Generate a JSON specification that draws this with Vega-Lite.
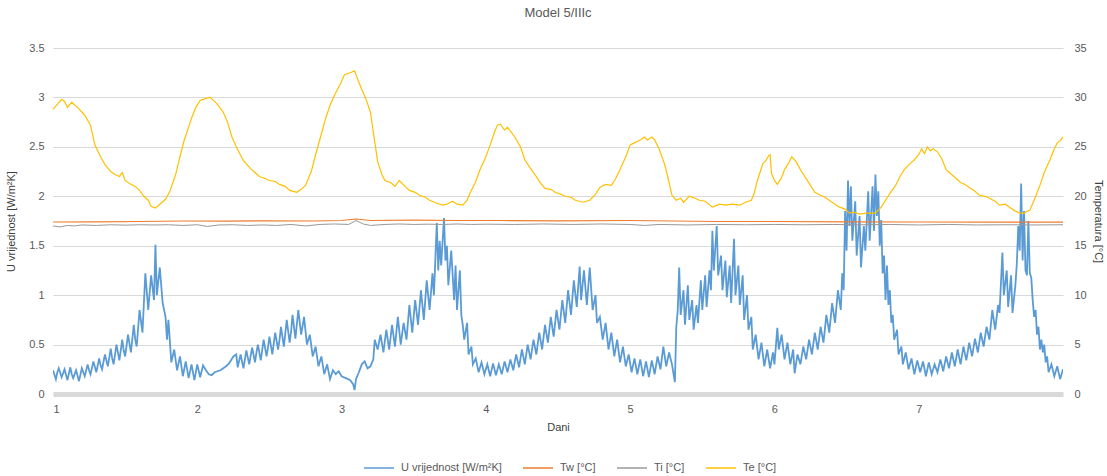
{
"$schema": "https://vega.github.io/schema/vega-lite/v6.json",
"autosize": "none",
"width": 1010,
"height": 346,
"padding": {"left": 53, "top": 48, "right": 44, "bottom": 82},
"background": "white",
"config": {"view": {"stroke": null}, "font": "Liberation Sans Narrow, Liberation Sans, Arial, sans-serif"},
"title": {"text": "Model 5/IIIc", "fontSize": 13, "fontWeight": "normal", "color": "#595959", "offset": 22, "anchor": "middle"},
"datasets": {
"u": [
{"d":1.00,"v":0.24},{"d":1.02,"v":0.15},{"d":1.03,"v":0.22},{"d":1.04,"v":0.26},{"d":1.06,"v":0.17},{"d":1.07,"v":0.21},{"d":1.08,"v":0.25},{"d":1.10,"v":0.14},{"d":1.12,"v":0.27},{"d":1.13,"v":0.2},{"d":1.14,"v":0.16},{"d":1.16,"v":0.24},{"d":1.18,"v":0.13},{"d":1.20,"v":0.26},
{"d":1.22,"v":0.18},{"d":1.24,"v":0.30},{"d":1.25,"v":0.24},{"d":1.26,"v":0.20},{"d":1.28,"v":0.33},{"d":1.30,"v":0.22},{"d":1.32,"v":0.36},{"d":1.33,"v":0.29},{"d":1.34,"v":0.25},{"d":1.36,"v":0.40},{"d":1.38,"v":0.28},{"d":1.40,"v":0.46},{"d":1.41,"v":0.36},{"d":1.42,"v":0.30},{"d":1.44,"v":0.50},{"d":1.46,"v":0.34},{"d":1.48,"v":0.55},{"d":1.49,"v":0.44},{"d":1.50,"v":0.38},{"d":1.52,"v":0.60},{"d":1.54,"v":0.42},{"d":1.56,"v":0.70},{"d":1.57,"v":0.55},{"d":1.58,"v":0.48},{"d":1.60,"v":0.85},{"d":1.62,"v":0.62},{"d":1.64,"v":1.22},{"d":1.66,"v":0.85},{"d":1.68,"v":1.20},{"d":1.70,"v":0.95},{"d":1.71,"v":1.51},{"d":1.72,"v":1.00},{"d":1.74,"v":1.28},{"d":1.76,"v":0.92},{"d":1.78,"v":0.78},{"d":1.79,"v":0.55},{"d":1.80,"v":0.75},{"d":1.82,"v":0.32},{"d":1.84,"v":0.45},{"d":1.86,"v":0.24},{"d":1.88,"v":0.38},{"d":1.90,"v":0.18},{"d":1.92,"v":0.33},{"d":1.94,"v":0.16},{"d":1.96,"v":0.30},{"d":1.98,"v":0.14},{"d":2.00,"v":0.30},{"d":2.02,"v":0.17},{"d":2.04,"v":0.29},{"d":2.06,"v":0.24},{"d":2.08,"v":0.20},{"d":2.10,"v":0.19},{"d":2.12,"v":0.22},{"d":2.14,"v":0.23},{"d":2.16,"v":0.24},{"d":2.18,"v":0.26},{"d":2.20,"v":0.28},{"d":2.22,"v":0.31},{"d":2.25,"v":0.38},{"d":2.27,"v":0.40},{"d":2.28,"v":0.27},{"d":2.30,"v":0.40},{"d":2.32,"v":0.26},{"d":2.33,"v":0.35},{"d":2.34,"v":0.44},{"d":2.36,"v":0.30},{"d":2.38,"v":0.47},{"d":2.40,"v":0.32},{"d":2.41,"v":0.42},{"d":2.42,"v":0.50},{"d":2.44,"v":0.34},{"d":2.46,"v":0.55},{"d":2.48,"v":0.38},{"d":2.49,"v":0.47},{"d":2.50,"v":0.58},{"d":2.52,"v":0.40},{"d":2.54,"v":0.62},{"d":2.56,"v":0.45},{"d":2.57,"v":0.55},{"d":2.58,"v":0.68},{"d":2.60,"v":0.48},{"d":2.62,"v":0.75},{"d":2.64,"v":0.52},{"d":2.65,"v":0.63},{"d":2.66,"v":0.80},{"d":2.68,"v":0.56},{"d":2.70,"v":0.85},{"d":2.72,"v":0.60},{"d":2.74,"v":0.78},{"d":2.76,"v":0.50},{"d":2.78,"v":0.60},{"d":2.80,"v":0.38},{"d":2.82,"v":0.48},{"d":2.84,"v":0.28},{"d":2.86,"v":0.38},{"d":2.88,"v":0.20},{"d":2.90,"v":0.30},{"d":2.92,"v":0.15},{"d":2.94,"v":0.24},{"d":2.96,"v":0.20},{"d":2.98,"v":0.23},{"d":3.00,"v":0.18},{"d":3.03,"v":0.16},{"d":3.06,"v":0.14},{"d":3.08,"v":0.10},{"d":3.09,"v":0.04},{"d":3.10,"v":0.15},{"d":3.12,"v":0.22},{"d":3.14,"v":0.30},{"d":3.16,"v":0.33},{"d":3.18,"v":0.26},{"d":3.20,"v":0.28},{"d":3.22,"v":0.35},{"d":3.23,"v":0.55},{"d":3.25,"v":0.45},{"d":3.27,"v":0.60},{"d":3.29,"v":0.42},{"d":3.31,"v":0.65},{"d":3.33,"v":0.45},{"d":3.35,"v":0.70},{"d":3.37,"v":0.48},{"d":3.39,"v":0.78},{"d":3.41,"v":0.50},{"d":3.43,"v":0.72},{"d":3.45,"v":0.55},{"d":3.47,"v":0.90},{"d":3.49,"v":0.62},{"d":3.51,"v":0.95},{"d":3.53,"v":0.70},{"d":3.55,"v":1.05},{"d":3.57,"v":0.75},{"d":3.59,"v":1.15},{"d":3.61,"v":0.85},{"d":3.63,"v":1.22},{"d":3.64,"v":1.00},{"d":3.66,"v":1.73},{"d":3.67,"v":1.25},{"d":3.68,"v":1.55},{"d":3.69,"v":1.30},{"d":3.71,"v":1.78},{"d":3.72,"v":1.35},{"d":3.73,"v":1.50},{"d":3.74,"v":1.10},{"d":3.76,"v":1.45},{"d":3.78,"v":0.95},{"d":3.79,"v":1.30},{"d":3.80,"v":0.85},{"d":3.82,"v":1.25},{"d":3.83,"v":0.80},{"d":3.84,"v":0.70},{"d":3.85,"v":0.55},{"d":3.87,"v":0.72},{"d":3.88,"v":0.40},{"d":3.90,"v":0.48},{"d":3.91,"v":0.30},{"d":3.93,"v":0.36},{"d":3.95,"v":0.22},{"d":3.97,"v":0.32},{"d":3.99,"v":0.20},{"d":4.01,"v":0.30},{"d":4.03,"v":0.18},{"d":4.05,"v":0.31},{"d":4.07,"v":0.19},{"d":4.09,"v":0.30},{"d":4.11,"v":0.20},{"d":4.13,"v":0.33},{"d":4.15,"v":0.22},{"d":4.17,"v":0.35},{"d":4.19,"v":0.24},{"d":4.21,"v":0.40},{"d":4.23,"v":0.27},{"d":4.25,"v":0.45},{"d":4.27,"v":0.30},{"d":4.29,"v":0.50},{"d":4.31,"v":0.35},{"d":4.33,"v":0.55},{"d":4.35,"v":0.40},{"d":4.37,"v":0.62},{"d":4.39,"v":0.45},{"d":4.41,"v":0.70},{"d":4.43,"v":0.52},{"d":4.45,"v":0.78},{"d":4.47,"v":0.58},{"d":4.49,"v":0.85},{"d":4.51,"v":0.65},{"d":4.53,"v":0.95},{"d":4.55,"v":0.72},{"d":4.57,"v":1.05},{"d":4.59,"v":0.80},{"d":4.61,"v":1.15},{"d":4.63,"v":0.88},{"d":4.65,"v":1.29},{"d":4.66,"v":0.95},{"d":4.68,"v":1.25},{"d":4.70,"v":0.90},{"d":4.72,"v":1.28},{"d":4.74,"v":0.85},{"d":4.76,"v":1.00},{"d":4.77,"v":0.72},{"d":4.79,"v":0.78},{"d":4.81,"v":0.55},{"d":4.83,"v":0.72},{"d":4.85,"v":0.45},{"d":4.87,"v":0.62},{"d":4.89,"v":0.38},{"d":4.91,"v":0.55},{"d":4.93,"v":0.32},{"d":4.95,"v":0.48},{"d":4.97,"v":0.28},{"d":4.99,"v":0.40},{"d":5.01,"v":0.22},{"d":5.03,"v":0.36},{"d":5.05,"v":0.20},{"d":5.07,"v":0.35},{"d":5.09,"v":0.18},{"d":5.11,"v":0.33},{"d":5.13,"v":0.17},{"d":5.15,"v":0.34},{"d":5.17,"v":0.20},{"d":5.19,"v":0.38},{"d":5.21,"v":0.25},{"d":5.23,"v":0.48},{"d":5.25,"v":0.28},{"d":5.27,"v":0.42},{"d":5.29,"v":0.30},{"d":5.31,"v":0.12},{"d":5.32,"v":0.68},{"d":5.33,"v":0.85},{"d":5.34,"v":1.28},{"d":5.35,"v":0.80},{"d":5.37,"v":1.05},{"d":5.38,"v":0.70},{"d":5.40,"v":1.10},{"d":5.41,"v":0.75},{"d":5.43,"v":0.95},{"d":5.44,"v":0.65},{"d":5.46,"v":0.90},{"d":5.47,"v":0.72},{"d":5.49,"v":1.15},{"d":5.50,"v":0.85},{"d":5.52,"v":1.20},{"d":5.53,"v":0.88},{"d":5.55,"v":1.25},{"d":5.56,"v":1.05},{"d":5.57,"v":1.65},{"d":5.58,"v":1.25},{"d":5.60,"v":1.70},{"d":5.61,"v":1.20},{"d":5.63,"v":1.40},{"d":5.64,"v":1.05},{"d":5.66,"v":1.35},{"d":5.67,"v":0.98},{"d":5.69,"v":1.30},{"d":5.70,"v":0.92},{"d":5.72,"v":1.57},{"d":5.73,"v":1.00},{"d":5.75,"v":1.30},{"d":5.76,"v":0.90},{"d":5.78,"v":1.20},{"d":5.79,"v":0.75},{"d":5.81,"v":1.00},{"d":5.82,"v":0.65},{"d":5.84,"v":0.78},{"d":5.85,"v":0.45},{"d":5.87,"v":0.60},{"d":5.89,"v":0.35},{"d":5.91,"v":0.52},{"d":5.93,"v":0.28},{"d":5.95,"v":0.45},{"d":5.97,"v":0.26},{"d":5.99,"v":0.42},{"d":6.00,"v":0.30},{"d":6.02,"v":0.67},{"d":6.03,"v":0.45},{"d":6.05,"v":0.60},{"d":6.07,"v":0.35},{"d":6.09,"v":0.52},{"d":6.11,"v":0.30},{"d":6.13,"v":0.45},{"d":6.14,"v":0.21},{"d":6.16,"v":0.40},{"d":6.18,"v":0.30},{"d":6.20,"v":0.48},{"d":6.22,"v":0.35},{"d":6.24,"v":0.55},{"d":6.26,"v":0.40},{"d":6.28,"v":0.62},{"d":6.30,"v":0.45},{"d":6.32,"v":0.68},{"d":6.34,"v":0.52},{"d":6.36,"v":0.80},{"d":6.38,"v":0.62},{"d":6.40,"v":0.92},{"d":6.42,"v":0.72},{"d":6.44,"v":1.05},{"d":6.46,"v":0.85},{"d":6.47,"v":1.22},{"d":6.48,"v":1.05},{"d":6.49,"v":1.85},{"d":6.50,"v":1.45},{"d":6.51,"v":2.16},{"d":6.52,"v":1.70},{"d":6.53,"v":2.10},{"d":6.54,"v":1.55},{"d":6.56,"v":1.95},{"d":6.57,"v":1.40},{"d":6.59,"v":1.80},{"d":6.60,"v":1.28},{"d":6.62,"v":1.70},{"d":6.63,"v":1.45},{"d":6.65,"v":2.05},{"d":6.66,"v":1.55},{"d":6.68,"v":2.10},{"d":6.69,"v":1.65},{"d":6.70,"v":2.22},{"d":6.71,"v":1.80},{"d":6.72,"v":2.05},{"d":6.73,"v":1.50},{"d":6.74,"v":1.76},{"d":6.75,"v":1.22},{"d":6.76,"v":1.40},{"d":6.77,"v":0.95},{"d":6.78,"v":1.30},{"d":6.79,"v":0.90},{"d":6.80,"v":1.05},{"d":6.81,"v":0.72},{"d":6.82,"v":0.80},{"d":6.83,"v":0.55},{"d":6.85,"v":0.65},{"d":6.86,"v":0.40},{"d":6.88,"v":0.48},{"d":6.89,"v":0.30},{"d":6.91,"v":0.42},{"d":6.93,"v":0.25},{"d":6.95,"v":0.36},{"d":6.97,"v":0.20},{"d":6.99,"v":0.34},{"d":7.01,"v":0.22},{"d":7.03,"v":0.33},{"d":7.05,"v":0.18},{"d":7.07,"v":0.32},{"d":7.09,"v":0.20},{"d":7.11,"v":0.30},{"d":7.13,"v":0.22},{"d":7.15,"v":0.35},{"d":7.17,"v":0.23},{"d":7.19,"v":0.38},{"d":7.21,"v":0.26},{"d":7.23,"v":0.42},{"d":7.25,"v":0.28},{"d":7.27,"v":0.45},{"d":7.29,"v":0.30},{"d":7.31,"v":0.48},{"d":7.33,"v":0.34},{"d":7.35,"v":0.52},{"d":7.37,"v":0.38},{"d":7.39,"v":0.56},{"d":7.41,"v":0.42},{"d":7.43,"v":0.62},{"d":7.45,"v":0.48},{"d":7.47,"v":0.68},{"d":7.49,"v":0.55},{"d":7.51,"v":0.85},{"d":7.53,"v":0.65},{"d":7.55,"v":0.90},{"d":7.56,"v":0.82},{"d":7.58,"v":1.43},{"d":7.59,"v":1.00},{"d":7.61,"v":1.25},{"d":7.62,"v":0.88},{"d":7.64,"v":1.20},{"d":7.65,"v":0.82},{"d":7.67,"v":1.10},{"d":7.68,"v":1.32},{"d":7.69,"v":1.70},{"d":7.70,"v":1.45},{"d":7.71,"v":2.13},{"d":7.72,"v":1.35},{"d":7.73,"v":1.85},{"d":7.74,"v":1.25},{"d":7.75,"v":1.20},{"d":7.76,"v":1.75},{"d":7.77,"v":1.22},{"d":7.78,"v":1.18},{"d":7.79,"v":0.95},{"d":7.80,"v":0.78},{"d":7.81,"v":0.85},{"d":7.82,"v":0.60},{"d":7.83,"v":0.68},{"d":7.84,"v":0.45},{"d":7.85,"v":0.55},{"d":7.86,"v":0.42},{"d":7.87,"v":0.50},{"d":7.88,"v":0.32},{"d":7.89,"v":0.38},{"d":7.90,"v":0.22},{"d":7.92,"v":0.30},{"d":7.94,"v":0.18},{"d":7.96,"v":0.28},{"d":7.98,"v":0.15},{"d":8.00,"v":0.25}
],
"tw": [
{"d":1.0,"v":17.4},{"d":1.3,"v":17.42},{"d":1.6,"v":17.45},{"d":1.9,"v":17.5},{"d":2.2,"v":17.48},{"d":2.5,"v":17.52},{"d":2.8,"v":17.5},{"d":3.0,"v":17.55},{"d":3.1,"v":17.7},{"d":3.2,"v":17.55},{"d":3.5,"v":17.58},{"d":3.8,"v":17.55},{"d":4.1,"v":17.55},{"d":4.5,"v":17.52},{"d":5.0,"v":17.55},{"d":5.3,"v":17.5},{"d":5.6,"v":17.45},{"d":6.0,"v":17.45},{"d":6.5,"v":17.42},{"d":7.0,"v":17.4},{"d":7.5,"v":17.38},{"d":8.0,"v":17.38}
],
"ti": [
{"d":1.0,"v":17.0},{"d":1.05,"v":16.9},{"d":1.1,"v":17.05},{"d":1.15,"v":17.0},{"d":1.2,"v":17.1},{"d":1.3,"v":17.05},{"d":1.4,"v":17.12},{"d":1.5,"v":17.08},{"d":1.6,"v":17.12},{"d":1.7,"v":17.1},{"d":1.8,"v":17.12},{"d":1.9,"v":17.05},{"d":2.0,"v":17.12},{"d":2.07,"v":16.95},{"d":2.15,"v":17.1},{"d":2.25,"v":17.12},{"d":2.35,"v":17.05},{"d":2.45,"v":17.1},{"d":2.55,"v":17.05},{"d":2.65,"v":17.15},{"d":2.75,"v":17.0},{"d":2.85,"v":17.15},{"d":2.95,"v":17.2},{"d":3.05,"v":17.15},{"d":3.1,"v":17.55},{"d":3.15,"v":17.2},{"d":3.2,"v":17.05},{"d":3.3,"v":17.15},{"d":3.4,"v":17.2},{"d":3.5,"v":17.15},{"d":3.6,"v":17.18},{"d":3.7,"v":17.15},{"d":3.8,"v":17.2},{"d":3.9,"v":17.15},{"d":4.0,"v":17.18},{"d":4.2,"v":17.15},{"d":4.4,"v":17.2},{"d":4.6,"v":17.15},{"d":4.8,"v":17.2},{"d":5.0,"v":17.15},{"d":5.1,"v":17.05},{"d":5.2,"v":17.15},{"d":5.4,"v":17.1},{"d":5.6,"v":17.15},{"d":5.8,"v":17.12},{"d":6.0,"v":17.15},{"d":6.2,"v":17.12},{"d":6.4,"v":17.15},{"d":6.6,"v":17.12},{"d":6.8,"v":17.15},{"d":7.0,"v":17.1},{"d":7.2,"v":17.15},{"d":7.4,"v":17.1},{"d":7.6,"v":17.12},{"d":7.8,"v":17.1},{"d":8.0,"v":17.12}
],
"te": [
{"d":1.00,"v":28.8},{"d":1.03,"v":29.3},{"d":1.06,"v":29.8},{"d":1.08,"v":29.6},{"d":1.10,"v":29.0},{"d":1.13,"v":29.5},{"d":1.17,"v":29.0},{"d":1.22,"v":28.2},{"d":1.26,"v":27.2},{"d":1.29,"v":25.2},{"d":1.33,"v":24.0},{"d":1.36,"v":23.2},{"d":1.40,"v":22.5},{"d":1.43,"v":22.2},{"d":1.46,"v":22.0},{"d":1.48,"v":22.4},{"d":1.50,"v":21.6},{"d":1.53,"v":21.3},{"d":1.57,"v":21.0},{"d":1.60,"v":20.6},{"d":1.63,"v":20.0},{"d":1.66,"v":19.6},{"d":1.68,"v":19.0},{"d":1.71,"v":18.8},{"d":1.74,"v":19.2},{"d":1.78,"v":19.7},{"d":1.81,"v":20.5},{"d":1.85,"v":22.2},{"d":1.88,"v":24.0},{"d":1.91,"v":25.7},{"d":1.94,"v":27.0},{"d":1.96,"v":27.9},{"d":1.99,"v":29.0},{"d":2.02,"v":29.7},{"d":2.06,"v":29.9},{"d":2.09,"v":30.0},{"d":2.12,"v":29.6},{"d":2.14,"v":29.3},{"d":2.18,"v":28.5},{"d":2.21,"v":27.5},{"d":2.24,"v":26.0},{"d":2.28,"v":24.7},{"d":2.32,"v":23.6},{"d":2.37,"v":22.8},{"d":2.40,"v":22.4},{"d":2.43,"v":22.0},{"d":2.47,"v":21.8},{"d":2.50,"v":21.6},{"d":2.54,"v":21.5},{"d":2.57,"v":21.2},{"d":2.61,"v":21.0},{"d":2.64,"v":20.6},{"d":2.69,"v":20.4},{"d":2.72,"v":20.7},{"d":2.75,"v":21.1},{"d":2.79,"v":22.5},{"d":2.82,"v":24.2},{"d":2.86,"v":26.3},{"d":2.89,"v":27.9},{"d":2.92,"v":29.2},{"d":2.95,"v":30.2},{"d":2.99,"v":31.3},{"d":3.02,"v":32.3},{"d":3.06,"v":32.5},{"d":3.09,"v":32.7},{"d":3.12,"v":31.5},{"d":3.14,"v":30.8},{"d":3.17,"v":29.8},{"d":3.20,"v":28.5},{"d":3.23,"v":25.5},{"d":3.25,"v":23.5},{"d":3.28,"v":22.2},{"d":3.30,"v":21.6},{"d":3.34,"v":21.4},{"d":3.37,"v":21.0},{"d":3.40,"v":21.6},{"d":3.44,"v":21.0},{"d":3.47,"v":20.6},{"d":3.51,"v":20.4},{"d":3.54,"v":20.1},{"d":3.58,"v":19.9},{"d":3.61,"v":19.6},{"d":3.66,"v":19.3},{"d":3.70,"v":19.1},{"d":3.73,"v":19.2},{"d":3.77,"v":19.5},{"d":3.80,"v":19.2},{"d":3.84,"v":19.1},{"d":3.87,"v":19.6},{"d":3.89,"v":20.3},{"d":3.93,"v":21.5},{"d":3.96,"v":22.7},{"d":4.00,"v":24.0},{"d":4.03,"v":25.2},{"d":4.06,"v":26.5},{"d":4.08,"v":27.2},{"d":4.10,"v":27.3},{"d":4.13,"v":26.7},{"d":4.15,"v":27.0},{"d":4.20,"v":26.0},{"d":4.24,"v":25.0},{"d":4.27,"v":23.7},{"d":4.31,"v":22.8},{"d":4.34,"v":22.2},{"d":4.38,"v":21.3},{"d":4.41,"v":20.8},{"d":4.45,"v":20.7},{"d":4.48,"v":20.4},{"d":4.52,"v":20.2},{"d":4.55,"v":20.0},{"d":4.59,"v":19.9},{"d":4.62,"v":19.6},{"d":4.67,"v":19.4},{"d":4.72,"v":19.6},{"d":4.76,"v":20.2},{"d":4.79,"v":20.9},{"d":4.83,"v":21.2},{"d":4.87,"v":21.1},{"d":4.90,"v":21.8},{"d":4.93,"v":22.7},{"d":4.97,"v":24.0},{"d":5.00,"v":25.2},{"d":5.03,"v":25.4},{"d":5.07,"v":25.7},{"d":5.10,"v":26.0},{"d":5.12,"v":25.7},{"d":5.15,"v":26.0},{"d":5.17,"v":25.7},{"d":5.20,"v":24.8},{"d":5.24,"v":23.2},{"d":5.26,"v":22.0},{"d":5.29,"v":20.1},{"d":5.32,"v":19.6},{"d":5.35,"v":19.8},{"d":5.37,"v":19.4},{"d":5.41,"v":20.0},{"d":5.45,"v":19.8},{"d":5.48,"v":19.6},{"d":5.52,"v":19.5},{"d":5.57,"v":18.9},{"d":5.62,"v":19.2},{"d":5.66,"v":19.1},{"d":5.71,"v":19.2},{"d":5.76,"v":19.1},{"d":5.80,"v":19.4},{"d":5.84,"v":19.6},{"d":5.86,"v":20.3},{"d":5.88,"v":21.5},{"d":5.90,"v":22.4},{"d":5.92,"v":23.3},{"d":5.94,"v":23.6},{"d":5.96,"v":24.1},{"d":5.97,"v":24.2},{"d":5.98,"v":22.3},{"d":6.00,"v":21.6},{"d":6.02,"v":21.2},{"d":6.05,"v":21.9},{"d":6.07,"v":22.7},{"d":6.10,"v":23.4},{"d":6.12,"v":24.0},{"d":6.15,"v":23.5},{"d":6.18,"v":22.7},{"d":6.21,"v":22.0},{"d":6.25,"v":21.1},{"d":6.28,"v":20.4},{"d":6.32,"v":20.1},{"d":6.35,"v":19.9},{"d":6.38,"v":19.6},{"d":6.42,"v":19.2},{"d":6.45,"v":18.9},{"d":6.49,"v":18.7},{"d":6.52,"v":18.3},{"d":6.55,"v":18.4},{"d":6.59,"v":18.2},{"d":6.64,"v":18.3},{"d":6.70,"v":18.3},{"d":6.74,"v":18.9},{"d":6.77,"v":19.6},{"d":6.81,"v":20.5},{"d":6.84,"v":21.1},{"d":6.87,"v":22.0},{"d":6.90,"v":22.7},{"d":6.94,"v":23.3},{"d":6.97,"v":23.7},{"d":7.00,"v":24.2},{"d":7.02,"v":24.8},{"d":7.04,"v":24.3},{"d":7.06,"v":25.0},{"d":7.08,"v":24.6},{"d":7.10,"v":24.8},{"d":7.13,"v":24.5},{"d":7.16,"v":23.8},{"d":7.19,"v":22.7},{"d":7.22,"v":22.3},{"d":7.26,"v":21.8},{"d":7.29,"v":21.4},{"d":7.32,"v":21.2},{"d":7.35,"v":20.9},{"d":7.39,"v":20.5},{"d":7.42,"v":20.1},{"d":7.46,"v":20.0},{"d":7.49,"v":19.8},{"d":7.53,"v":19.5},{"d":7.56,"v":19.1},{"d":7.60,"v":19.2},{"d":7.63,"v":18.9},{"d":7.67,"v":18.5},{"d":7.70,"v":18.3},{"d":7.73,"v":18.3},{"d":7.77,"v":18.6},{"d":7.80,"v":19.6},{"d":7.84,"v":21.1},{"d":7.87,"v":22.4},{"d":7.91,"v":23.7},{"d":7.94,"v":24.8},{"d":7.96,"v":25.4},{"d":7.98,"v":25.6},{"d":8.00,"v":26.0}
]
},
"layer": [
{
"layer": [
{"data": {"name": "u"}, "mark": {"type": "line", "strokeWidth": 1.8, "clip": true},
"encoding": {
"x": {"field": "d", "type": "quantitative", "scale": {"domain": [1, 8], "nice": false, "zero": false},
"axis": {"title": "Dani", "values": [1,2,3,4,5,6,7], "format": "d", "grid": false, "ticks": false, "domainColor": "#d9d9d9", "domainWidth": 5, "labelColor": "#595959", "labelFontSize": 11, "labelPadding": 9, "titleColor": "#404040", "titleFontSize": 11, "titleFontWeight": "normal", "titlePadding": 7}},
"y": {"field": "v", "type": "quantitative", "scale": {"domain": [0, 3.5], "nice": false},
"axis": {"title": "U vrijednost [W/m²K]", "values": [0,0.5,1,1.5,2,2.5,3,3.5], "format": ".1~f", "grid": true, "gridColor": "#d9d9d9", "domain": false, "ticks": false, "labelColor": "#595959", "labelFontSize": 11, "labelPadding": 9, "titleColor": "#404040", "titleFontSize": 11, "titleFontWeight": "normal", "titlePadding": 12}},
"color": {"datum": "U vrijednost [W/m²K]", "type": "nominal",
"scale": {"domain": ["U vrijednost [W/m²K]", "Tw [°C]", "Ti [°C]", "Te [°C]"], "range": ["#5B9BD5", "#ED7D31", "#999999", "#FFC000"]},
"legend": {"title": null, "orient": "none", "legendX": 310, "legendY": 404, "direction": "horizontal", "symbolType": "stroke", "symbolSize": 900, "symbolStrokeWidth": 1.5, "labelColor": "#595959", "labelFontSize": 11, "columnPadding": 18, "labelOffset": 6}}
}}
]
},
{
"layer": [
{"data": {"name": "tw"}, "mark": {"type": "line", "strokeWidth": 1.2},
"encoding": {"x": {"field": "d", "type": "quantitative"}, "y": {"field": "v", "type": "quantitative"}, "color": {"datum": "Tw [°C]", "type": "nominal"}}},
{"data": {"name": "ti"}, "mark": {"type": "line", "strokeWidth": 1},
"encoding": {"x": {"field": "d", "type": "quantitative"}, "y": {"field": "v", "type": "quantitative"}, "color": {"datum": "Ti [°C]", "type": "nominal"}}},
{"data": {"name": "te"}, "mark": {"type": "line", "strokeWidth": 1.2},
"encoding": {"x": {"field": "d", "type": "quantitative"},
"y": {"field": "v", "type": "quantitative", "scale": {"domain": [0, 35], "nice": false},
"axis": {"orient": "right", "title": "Temperatura [°C]", "values": [0,5,10,15,20,25,30,35], "grid": false, "domain": false, "ticks": false, "labelColor": "#595959", "labelFontSize": 11, "labelPadding": 11, "titleColor": "#404040", "titleFontSize": 11, "titleFontWeight": "normal", "titlePadding": 6}},
"color": {"datum": "Te [°C]", "type": "nominal"}}}
]
}
],
"resolve": {"scale": {"y": "independent"}}
}
